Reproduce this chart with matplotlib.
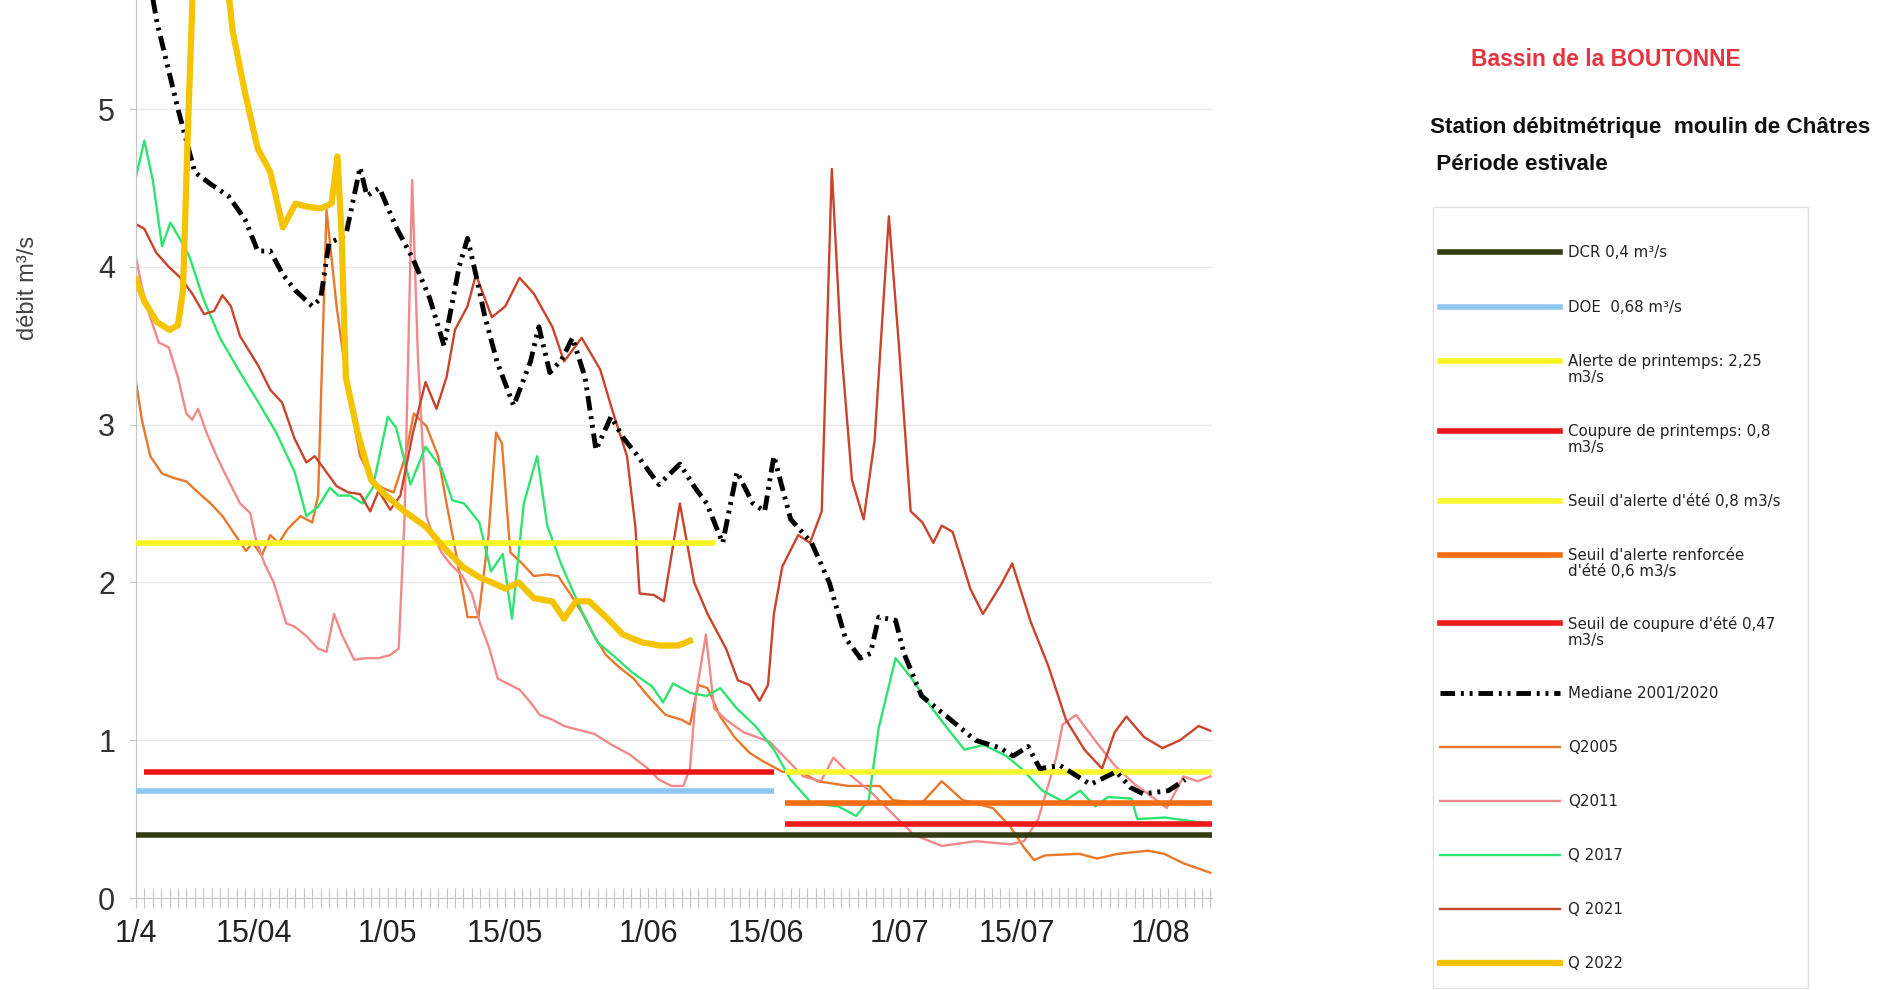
import matplotlib
matplotlib.use("Agg")
import matplotlib.pyplot as plt
from matplotlib.lines import Line2D
from matplotlib.patches import Rectangle

# jours comptés depuis le 1er avril
jours_ticks = [0, 14, 30, 44, 61, 75, 91, 105, 122]
labels_ticks = ["1/4", "15/04", "1/05", "15/05", "1/06", "15/06", "1/07", "15/07", "1/08"]

# seuils (valeur, jour début, jour fin)
seuil_labels = ["DCR 0,4 m³/s", "DOE  0,68 m³/s", "Alerte de printemps: 2,25\nm3/s",
                "Coupure de printemps: 0,8\nm3/s", "Seuil d'alerte d'été 0,8 m3/s",
                "Seuil d'alerte renforcée\nd'été 0,6 m3/s", "Seuil de coupure d'été 0,47\nm3/s"]
seuil_valeurs = [0.4, 0.68, 2.25, 0.8, 0.8, 0.6, 0.47]
seuil_debut = [0, 0, 0, 1, 77.3, 77.3, 77.3]
seuil_fin = [128.2, 76, 69, 76, 128.2, 128.2, 128.2]

jours_mediane = [0, 2.5, 5, 7, 9, 11, 13, 14.5, 16, 17.5,
                 19, 21, 22, 23, 25, 26.7, 27.5, 29, 31, 33,
                 35, 36.7, 38.5, 39.5, 40.5, 41.5, 43, 45, 47, 48,
                 49.3, 50.7, 52, 53.5, 54.8, 56.6, 58, 59.5, 62.3, 64.8,
                 66.6, 68, 69.9, 71.6, 73.5, 74.9, 76, 78, 80.5, 82.6,
                 84.5, 86.3, 87.5, 88.5, 90.5, 91.5, 93.6, 96.6, 100, 103,
                 104.5, 106.3, 107.7, 110.1, 113.7, 116.8, 118.5, 120, 123, 125]
mediane = [6.3, 5.55, 5.0, 4.6, 4.52, 4.45, 4.3, 4.1, 4.1, 3.95,
           3.85, 3.75, 3.8, 4.15, 4.2, 4.63, 4.45, 4.5, 4.25, 4.05,
           3.8, 3.5, 4.0, 4.18, 3.95, 3.7, 3.4, 3.12, 3.4, 3.62,
           3.33, 3.41, 3.55, 3.3, 2.84, 3.05, 2.92, 2.82, 2.62, 2.75,
           2.6, 2.5, 2.25, 2.7, 2.5, 2.45, 2.8, 2.4, 2.25, 2.0,
           1.65, 1.52, 1.55, 1.78, 1.76, 1.55, 1.28, 1.15, 1.0, 0.95,
           0.9, 0.96, 0.82, 0.84, 0.72, 0.80, 0.7, 0.66, 0.68, 0.75]

jours_2005 = [0, 0.7, 1.7, 3.1, 4.6, 6, 7.4, 8.9, 10.3, 11.7,
              13.1, 13.9, 15, 16, 17, 18.1, 19.6, 21, 21.7, 22.7,
              23.9, 25.3, 26.7, 28.1, 29.3, 30.7, 32.1, 33.1, 34.6, 36,
              37, 38.1, 39.5, 40.8, 42, 42.9, 43.6, 44.6, 46, 47.4,
              48.9, 50.3, 51.7, 53.1, 54.6, 56, 57.4, 59.3, 61, 63.1,
              65, 66, 67, 68.1, 69.6, 71.3, 73.1, 74.6, 77, 79.5,
              81.2, 84.9, 88.6, 90.2, 93.6, 96, 98.5, 102.1, 104.2, 105.8,
              107, 108.3, 112.4, 114.5, 117, 120.6, 122.5, 124.8, 128]
q2005 = [3.27, 3.03, 2.8, 2.69, 2.66, 2.64, 2.57, 2.5, 2.42, 2.31,
         2.2, 2.25, 2.17, 2.3, 2.25, 2.34, 2.42, 2.38, 2.55, 4.36,
         3.75, 3.2, 2.8, 2.65, 2.6, 2.57, 2.8, 3.07, 2.99, 2.8,
         2.5, 2.19, 1.78, 1.78, 2.3, 2.95, 2.88, 2.19, 2.12, 2.04,
         2.05, 2.04, 1.93, 1.81, 1.66, 1.54, 1.47, 1.39, 1.28, 1.16,
         1.13, 1.1, 1.35, 1.33, 1.15, 1.02, 0.92, 0.87, 0.8, 0.79,
         0.74, 0.71, 0.71, 0.62, 0.6, 0.74, 0.62, 0.57, 0.45, 0.32,
         0.24, 0.27, 0.28, 0.25, 0.28, 0.3, 0.28, 0.22, 0.16]

jours_2011 = [0, 0.7, 1.7, 2.7, 3.9, 5, 6, 6.7, 7.4, 8.4,
              9.6, 10.6, 12.4, 13.6, 14.3, 15.3, 16.4, 17.9, 18.9, 20.3,
              21.7, 22.7, 23.6, 24.6, 26, 27.4, 28.9, 30.3, 31.3, 32,
              32.9, 33.6, 34.6, 35.3, 36.4, 37.4, 38.9, 40, 41, 42.1,
              43.1, 44.6, 45.7, 47, 48.1, 49.6, 51, 52.4, 54.6, 56.7,
              58.8, 61, 62.3, 63.8, 65.2, 66, 66.7, 67.9, 68.9, 70.3,
              72.4, 75.5, 79.5, 81.6, 83.1, 85.3, 87.4, 90.2, 92.7, 96,
              100.1, 104.2, 105.8, 107.5, 109.6, 110.4, 112, 114.1, 116.6, 119,
              120.6, 122.8, 123.5, 124.8, 126.5, 128]
q2011 = [4.06, 3.87, 3.68, 3.52, 3.49, 3.3, 3.07, 3.03, 3.1, 2.95,
         2.8, 2.69, 2.5, 2.44, 2.27, 2.12, 2.0, 1.74, 1.72, 1.66,
         1.58, 1.56, 1.8, 1.66, 1.51, 1.52, 1.52, 1.54, 1.58, 2.42,
         4.55, 3.41, 2.42, 2.31, 2.19, 2.12, 2.04, 1.93, 1.74, 1.58,
         1.39, 1.35, 1.32, 1.24, 1.16, 1.13, 1.09, 1.07, 1.04, 0.97,
         0.91, 0.82, 0.75, 0.71, 0.71, 0.82, 1.28, 1.67, 1.2, 1.13,
         1.05, 0.99, 0.77, 0.74, 0.89, 0.77, 0.68, 0.53, 0.4, 0.33,
         0.36, 0.34, 0.36, 0.5, 0.88, 1.1, 1.16, 1.01, 0.84, 0.72,
         0.66, 0.57, 0.64, 0.77, 0.74, 0.77]

jours_2017 = [0, 1, 2, 3.1, 4.1, 5.3, 6.4, 8, 10, 12.4,
              14.6, 16.7, 18.9, 20.3, 21.7, 23.1, 24.1, 25.5, 27, 28.2,
              30, 31, 32.7, 34.5, 36.4, 37.7, 39.1, 40.9, 42.3, 43.7,
              44.8, 46.2, 47.8, 49, 50.7, 53, 55, 57, 59.1, 61.5,
              62.8, 64, 66, 68, 69.6, 71.6, 73.8, 76, 78, 80.5,
              83.7, 85.8, 87.3, 88.5, 90.5, 92.3, 94.6, 96.6, 98.7, 101,
              103.7, 105.5, 108, 110.5, 112.5, 114.3, 115.8, 118.6, 119.3, 122.6,
              125.3, 128]
q2017 = [4.57, 4.8, 4.55, 4.13, 4.28, 4.17, 4.06, 3.8, 3.55, 3.33,
         3.14, 2.95, 2.7, 2.42, 2.48, 2.6, 2.55, 2.55, 2.5, 2.6,
         3.05, 2.98, 2.62, 2.86, 2.72, 2.52, 2.5, 2.38, 2.07, 2.18,
         1.77, 2.5, 2.8, 2.36, 2.11, 1.83, 1.62, 1.53, 1.43, 1.34,
         1.24, 1.36, 1.3, 1.28, 1.33, 1.2, 1.09, 0.94, 0.75, 0.6,
         0.58, 0.52, 0.62, 1.08, 1.52, 1.4, 1.22, 1.08, 0.94, 0.97,
         0.9, 0.82, 0.68, 0.61, 0.68, 0.58, 0.64, 0.63, 0.5, 0.51,
         0.49, 0.47]

jours_2021 = [0, 1, 2.4, 3.9, 5.3, 6.7, 8.1, 9.3, 10.3, 11.3,
              12.4, 14.6, 16, 17.4, 18.9, 20.3, 21.3, 22.4, 23.9, 25.3,
              26.7, 27.9, 28.9, 30.3, 31.5, 33, 34.5, 35.8, 37, 38,
              39.5, 40.5, 42.4, 44, 45.7, 47.4, 49.6, 51, 53.1, 55.3,
              56.7, 58.5, 59.5, 60, 61.7, 62.9, 64.8, 66.5, 68.1, 70.3,
              71.7, 73.1, 74.3, 75.3, 76, 77, 78.9, 80.3, 81.7, 82.9,
              84, 85.3, 86.7, 88, 89.7, 90.9, 92.3, 93.7, 95, 96,
              97.3, 99.4, 100.9, 103, 104.4, 106.6, 108.7, 110.8, 113, 115.1,
              116.6, 118, 120.1, 122.3, 124.4, 126.6, 128]
q2021 = [4.27, 4.24, 4.09, 4.0, 3.93, 3.83, 3.7, 3.72, 3.82, 3.75,
         3.56, 3.37, 3.22, 3.14, 2.91, 2.76, 2.8, 2.72, 2.61, 2.57,
         2.56, 2.45, 2.58, 2.46, 2.55, 2.95, 3.27, 3.1, 3.3, 3.6,
         3.75, 3.95, 3.68, 3.75, 3.93, 3.83, 3.62, 3.4, 3.55, 3.35,
         3.1, 2.8, 2.35, 1.93, 1.92, 1.88, 2.5, 2.0, 1.8, 1.58,
         1.38, 1.35, 1.25, 1.35, 1.8, 2.1, 2.3, 2.25, 2.45, 4.62,
         3.5, 2.65, 2.4, 2.9, 4.32, 3.5, 2.45, 2.38, 2.25, 2.36,
         2.32, 1.96, 1.8, 1.98, 2.12, 1.75, 1.47, 1.13, 0.94, 0.82,
         1.05, 1.15, 1.02, 0.95, 1.0, 1.09, 1.06]

jours_2022 = [0, 1, 2.5, 4, 5, 5.6, 6.2, 6.8, 7.5, 9,
              10.5, 11.5, 13, 14.5, 16, 17.5, 19, 20.5, 22, 23.3,
              24, 24.5, 25, 26.4, 28, 29.6, 32, 34.6, 36.7, 38.9,
              41, 42.4, 44, 45.6, 47.4, 49.6, 51, 52.4, 54, 56,
              58, 60.3, 62.4, 64.6, 66]
q2022 = [3.92, 3.78, 3.65, 3.6, 3.63, 3.85, 4.9, 5.8, 6.6, 6.8,
         6.0, 5.5, 5.1, 4.75, 4.6, 4.25, 4.4, 4.38, 4.37, 4.4,
         4.7, 4.2, 3.3, 2.95, 2.65, 2.56, 2.45, 2.35, 2.22, 2.1,
         2.03, 2.0, 1.96, 2.0, 1.9, 1.88, 1.77, 1.88, 1.88, 1.78,
         1.67, 1.62, 1.6, 1.6, 1.63]

SANS = "Liberation Sans"
W, H = 1881, 990

fig = plt.figure(figsize=(W / 100, H / 100), dpi=100)
ax = fig.add_axes([136 / W, 1 - 898 / H, (1212 - 136) / W, 898 / H])

seuil_couleurs = ["#323c10", "#8fc6ee", "#f6f61e", "#e81418", "#f8f832", "#f26c12", "#ee1a1a"]
series = [
    ("Q2005", jours_2005, q2005, "#e8782c", 1.7),
    ("Q2011", jours_2011, q2011, "#f08a8a", 1.7),
    ("Q 2017", jours_2017, q2017, "#2ee470", 1.7),
    ("Q 2021", jours_2021, q2021, "#c8442c", 1.7),
]

for lab, j, q, c, lw in series:
    ax.plot(j, q, color=c, lw=lw, zorder=2)

for v, d0, d1, c in zip(seuil_valeurs, seuil_debut, seuil_fin, seuil_couleurs):
    ax.hlines(v, d0, d1, color=c, lw=4, zorder=3)

med_style = (0, (3, 1.2, 0.6, 1.2, 0.6, 1.2))
ax.plot(jours_mediane, mediane, color="black", lw=3.5, ls=med_style, zorder=4)
ax.plot(jours_2022, q2022, color="#f4c400", lw=4.5, zorder=5, solid_joinstyle="round")

ax.set_xlim(0, 128.2)
ax.set_ylim(0, 898 / 157.8)
ax.set_yticks([0, 1, 2, 3, 4, 5])
ax.set_xticks(jours_ticks)
ax.set_xticklabels(labels_ticks, family=SANS, fontsize=22, color="#222222")
ax.set_xticks(range(0, 129), minor=True)
ax.tick_params(axis="x", which="both", direction="inout", length=14, width=0.8,
               color="#c4c4c4", pad=8)
ax.tick_params(axis="y", length=5, width=0.8, color="#c4c4c4", pad=10,
               labelsize=22, labelcolor="#333333")
for t in ax.get_yticklabels():
    t.set_family(SANS)
ax.yaxis.grid(True, color="#e8e8e8", lw=1)
ax.set_axisbelow(True)
for s in ["top", "right"]:
    ax.spines[s].set_visible(False)
ax.spines["left"].set_color("#c4c4c4")
ax.spines["bottom"].set_color("#c4c4c4")

fig.text(28 / W, 1 - 288 / H, "débit m³/s", rotation=90, ha="center", va="center",
         fontsize=17, color="#444444", family=SANS)
fig.text(1606 / W, 1 - 60 / H, "Bassin de la BOUTONNE", ha="center", va="center",
         fontsize=16.5, fontweight="bold", color="#e5333f", family=SANS)
fig.text(1430 / W, 1 - 127 / H, "Station débitmétrique  moulin de Châtres", ha="left",
         va="center", fontsize=16.2, fontweight="bold", color="#111111", family=SANS)
fig.text(1430 / W, 1 - 164 / H, " Période estivale", ha="left", va="center",
         fontsize=16.2, fontweight="bold", color="#111111", family=SANS)

# légende dessinée à la main (espacement comme l'original)
fig.add_artist(Rectangle((1433 / W, 1 - 988 / H), (1808 - 1433) / W, (988 - 207) / H,
                         transform=fig.transFigure, fill=False, edgecolor="#e2e2e2", lw=1))
legende = [(lab, c, 4, "-") for lab, c in zip(seuil_labels, seuil_couleurs)]
legende.append(("Mediane 2001/2020", "black", 3.5, med_style))
legende += [(lab, c, lw, "-") for lab, j, q, c, lw in series]
legende.append(("Q 2022", "#f4c400", 4.5, "-"))
rows = [252, 307, 361, 431, 501, 555, 623, 693, 747, 801, 855, 909, 963]
for (lab, c, lw, ls), r in zip(legende, rows):
    y = 1 - r / H
    fig.add_artist(Line2D([1440 / W, 1560 / W], [y, y], transform=fig.transFigure,
                          color=c, lw=lw, ls=ls))
    fig.text(1568 / W, 1 - (r - 7) / H, lab, ha="left", va="top", fontsize=10.8,
             color="#222222", linespacing=1.1)

fig.savefig("out.png", dpi=100)
